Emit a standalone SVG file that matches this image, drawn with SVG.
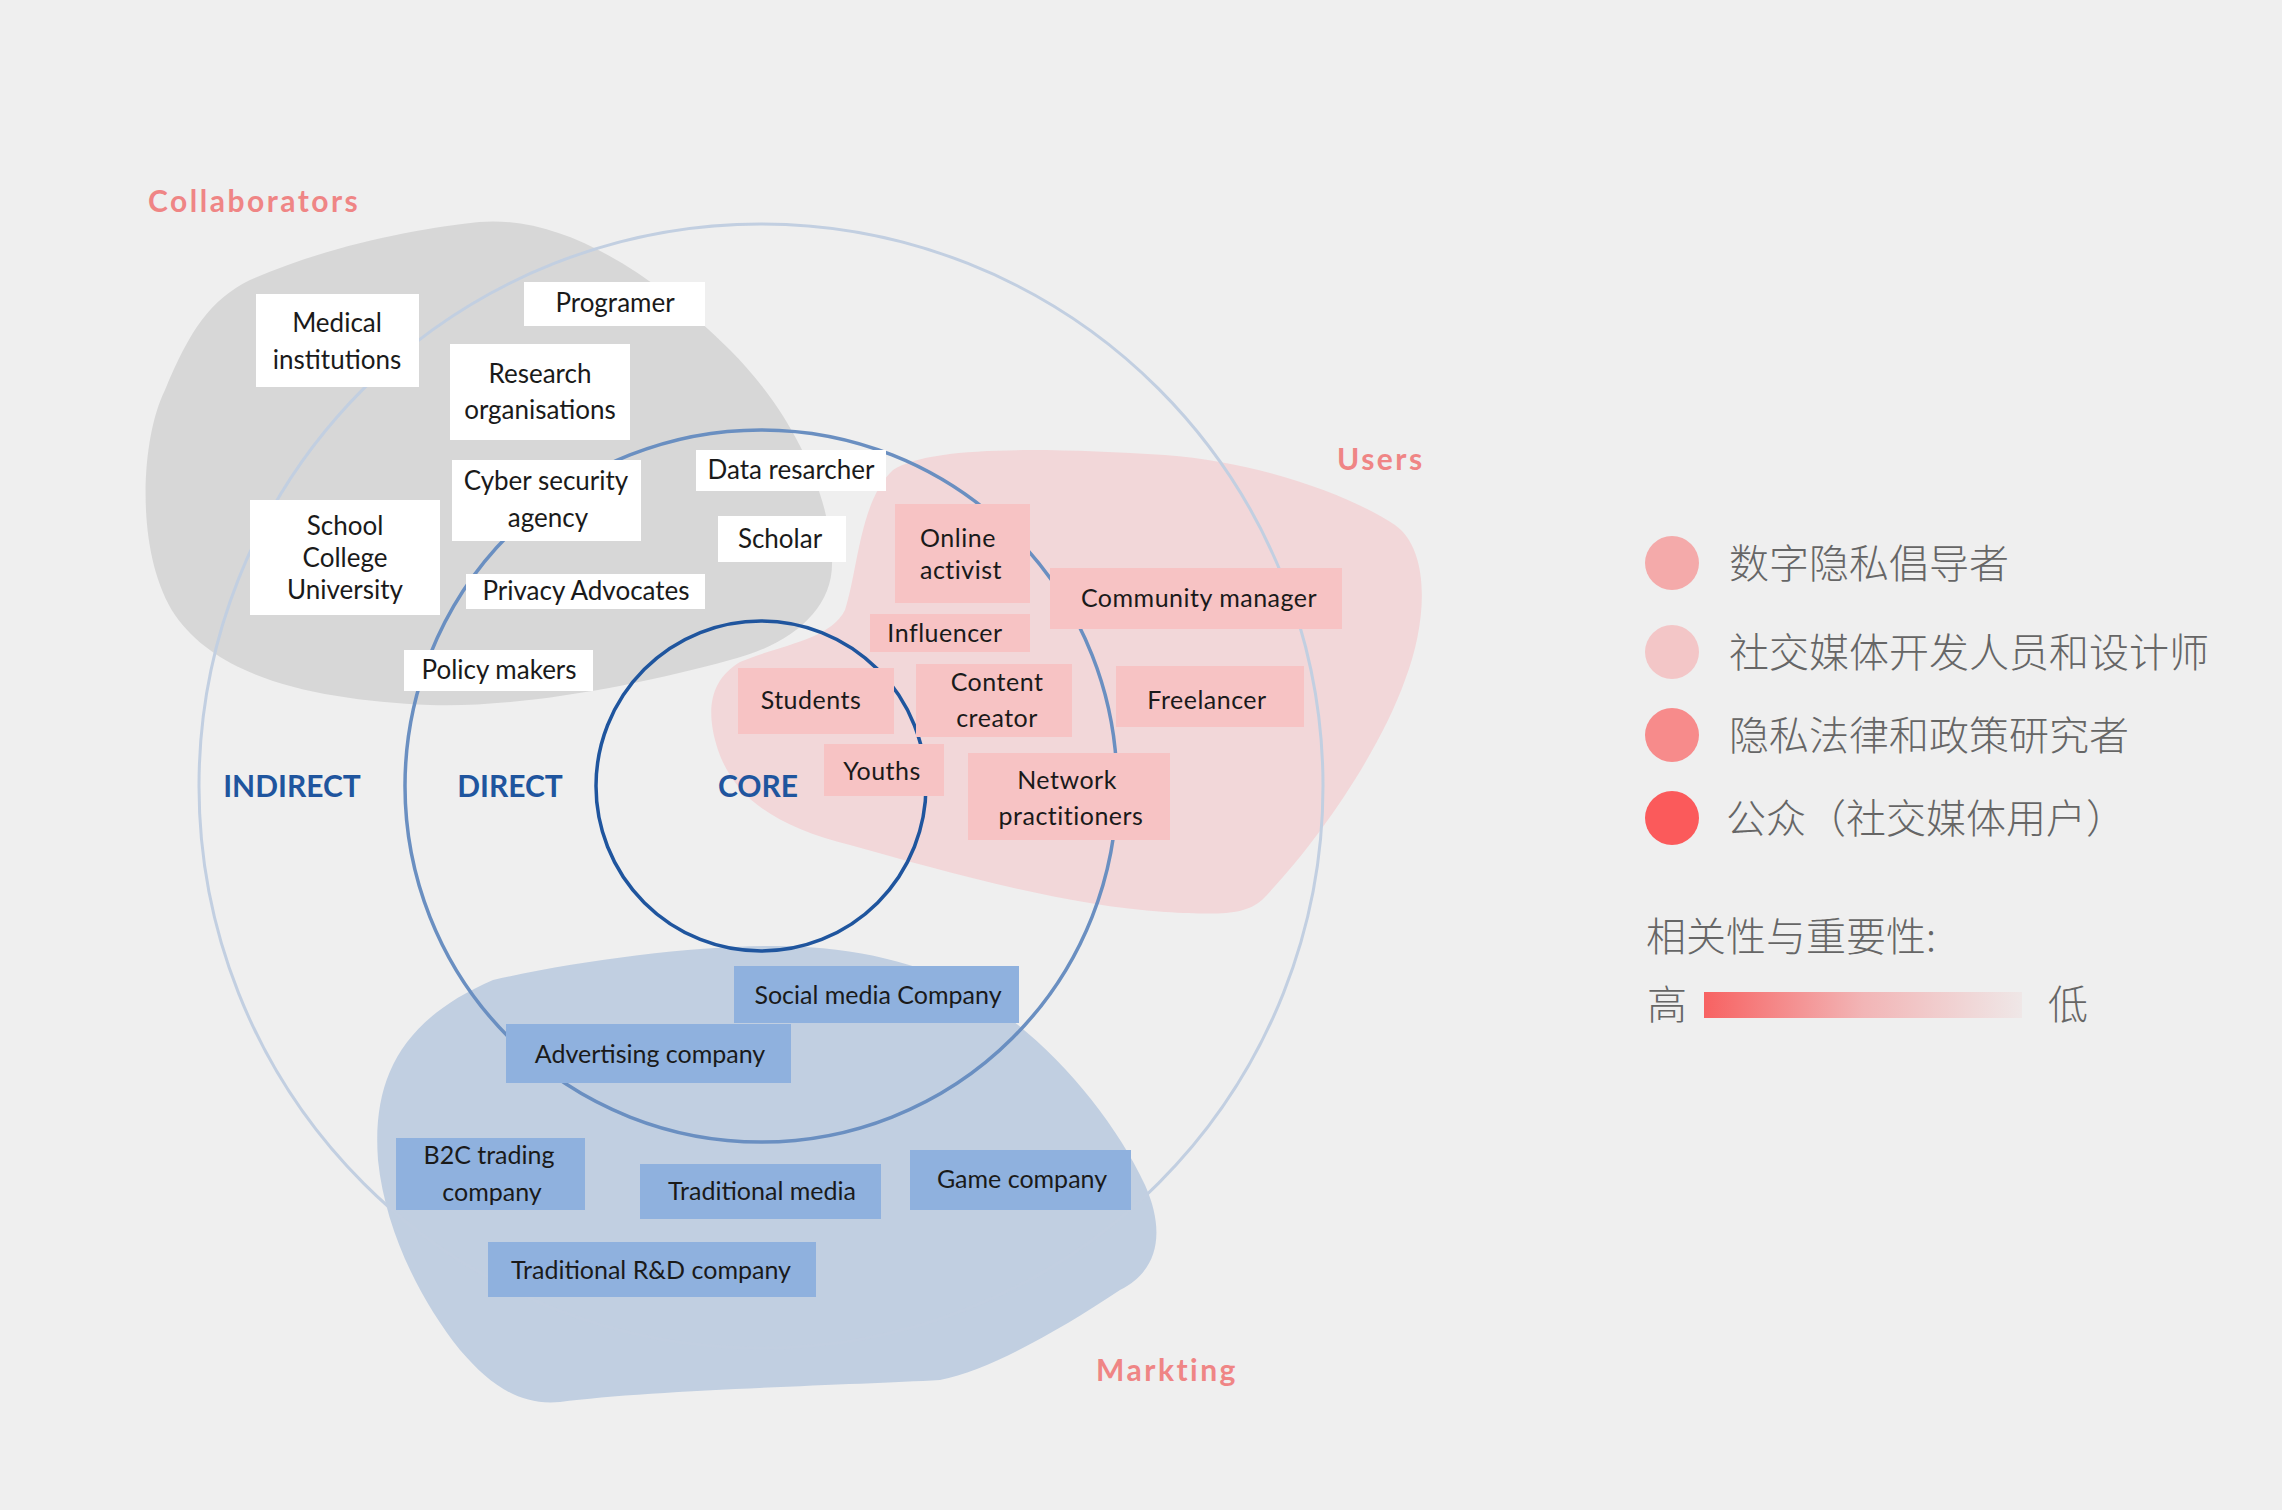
<svg xmlns="http://www.w3.org/2000/svg" width="2282" height="1510" viewBox="0 0 2282 1510">
<defs>
<linearGradient id="grad" x1="0" y1="0" x2="1" y2="0">
<stop offset="0" stop-color="#f76262"/>
<stop offset="0.5" stop-color="#f2b5b6"/>
<stop offset="1" stop-color="#efe7e7"/>
</linearGradient>
<style>
.bg{fill:#efefef}
.blobG{fill:#d7d7d7}
.blobP{fill:#f2d7d9}
.blobB{fill:#c1cfe1}
.ring{fill:none}
.wbox{fill:#ffffff}
.pbox{fill:#f7c3c4}
.bbox{fill:#8fb1de}
.t{font-family:"Lato","Noto Sans",sans-serif;font-size:26px;fill:#1a1a1a;text-anchor:middle}
.tp{font-size:25px;letter-spacing:0.5px}
.tb{font-size:25px}
.zone{font-family:"Lato","Noto Sans",sans-serif;font-size:30px;font-weight:bold;fill:#1f559e;text-anchor:middle}
.grp{font-family:"Lato","Noto Sans",sans-serif;font-size:30px;font-weight:bold;fill:#ef8585;letter-spacing:2.5px}
.lg{font-family:"Noto Sans CJK SC","Noto Sans",sans-serif;font-size:40px;font-weight:300;fill:#666666}
</style>
</defs>
<rect class="bg" x="0" y="0" width="2282" height="1510"/>

<g id="blobs">
<path id="blob-collaborators" class="blobG" d="M479,222 C560,215 650,270 730,350 C790,410 830,490 832,560 C834,610 790,645 730,660 C640,685 520,708 430,705 C320,700 220,680 175,615 C135,555 140,440 165,390 C190,330 210,300 250,280 C330,245 420,228 479,222 Z"/>
<path id="blob-users" class="blobP" d="M893,470 C930,445 1050,448 1165,455 C1260,462 1350,495 1395,525 C1430,550 1428,620 1405,680 C1380,750 1320,840 1262,900 C1245,915 1220,915 1165,912 C1060,905 940,870 850,845 C780,828 735,800 718,750 C705,710 710,680 740,662 C780,645 830,640 845,610 C858,570 860,500 893,470 Z"/>
<path id="blob-marketing" class="blobB" d="M493,980 C580,960 700,945 780,946 C860,947 920,965 960,985 C1040,1030 1110,1110 1145,1185 C1165,1230 1160,1270 1120,1290 C1060,1330 990,1370 940,1380 C850,1385 650,1390 560,1402 C520,1406 490,1385 460,1350 C420,1300 385,1230 378,1160 C372,1080 400,1020 493,980 Z"/>
</g>

<g id="rings">
<circle id="ring-indirect" class="ring" cx="761" cy="786" r="562" stroke="#c2cfe1" stroke-width="3"/>
<circle id="ring-direct" class="ring" cx="761" cy="786" r="356" stroke="#6a8fc1" stroke-width="3.5"/>
<circle id="ring-core" class="ring" cx="761" cy="786" r="165" stroke="#1f559e" stroke-width="3.5"/>
</g>

<g id="zone-labels">
<text class="zone" x="292" y="797">INDIRECT</text>
<text class="zone" x="510" y="797">DIRECT</text>
<text class="zone" x="758" y="797">CORE</text>
</g>

<g id="group-labels">
<text class="grp" x="148" y="212">Collaborators</text>
<text class="grp" x="1337" y="470">Users</text>
<text class="grp" x="1096" y="1381">Markting</text>
</g>

<g id="connectors"></g>

<g id="node-medical"><rect class="wbox" x="256" y="294" width="163" height="93"/><text class="t" x="337" y="332">Medical</text><text class="t" x="337" y="369">institutions</text></g>
<g id="node-programer"><rect class="wbox" x="524" y="282" width="181" height="44"/><text class="t" x="615" y="312">Programer</text></g>
<g id="node-research"><rect class="wbox" x="450" y="344" width="180" height="96"/><text class="t" x="540" y="383">Research</text><text class="t" x="540" y="419">organisations</text></g>
<g id="node-cyber"><rect class="wbox" x="452" y="460" width="189" height="81"/><text class="t" x="546" y="490">Cyber security</text><text class="t" x="548" y="527">agency</text></g>
<g id="node-data"><rect class="wbox" x="696" y="450" width="190" height="41"/><text class="t" x="791" y="479">Data resarcher</text></g>
<g id="node-scholar"><rect class="wbox" x="718" y="516" width="128" height="46"/><text class="t" x="780" y="548">Scholar</text></g>
<g id="node-school"><rect class="wbox" x="250" y="500" width="190" height="115"/><text class="t" x="345" y="535">School</text><text class="t" x="345" y="567">College</text><text class="t" x="345" y="599">University</text></g>
<g id="node-privacy"><rect class="wbox" x="466" y="574" width="239" height="35"/><text class="t" x="586" y="600">Privacy Advocates</text></g>
<g id="node-policy"><rect class="wbox" x="404" y="650" width="189" height="41"/><text class="t" x="499" y="679">Policy makers</text></g>

<g id="node-online"><rect class="pbox" x="895" y="504" width="135" height="99"/><text class="t tp" x="958" y="547">Online</text><text class="t tp" x="961" y="579">activist</text></g>
<g id="node-community"><rect class="pbox" x="1050" y="568" width="292" height="61"/><text class="t tp" x="1199" y="607">Community manager</text></g>
<g id="node-influencer"><rect class="pbox" x="870" y="614" width="160" height="38"/><text class="t tp" x="945" y="642">Influencer</text></g>
<g id="node-students"><rect class="pbox" x="738" y="668" width="156" height="66"/><text class="t tp" x="811" y="709">Students</text></g>
<g id="node-content"><rect class="pbox" x="916" y="664" width="156" height="73"/><text class="t tp" x="997" y="691">Content</text><text class="t tp" x="997" y="727">creator</text></g>
<g id="node-freelancer"><rect class="pbox" x="1116" y="666" width="188" height="61"/><text class="t tp" x="1207" y="709">Freelancer</text></g>
<g id="node-youths"><rect class="pbox" x="824" y="744" width="120" height="52"/><text class="t tp" x="882" y="780">Youths</text></g>
<g id="node-network"><rect class="pbox" x="968" y="753" width="202" height="87"/><text class="t tp" x="1067" y="789">Network</text><text class="t tp" x="1071" y="825">practitioners</text></g>

<g id="node-social"><rect class="bbox" x="734" y="966" width="285" height="57"/><text class="t tb" x="878" y="1004">Social media Company</text></g>
<g id="node-advertising"><rect class="bbox" x="506" y="1024" width="285" height="59"/><text class="t tb" x="650" y="1063">Advertising company</text></g>
<g id="node-b2c"><rect class="bbox" x="396" y="1138" width="189" height="72"/><text class="t tb" x="489" y="1164">B2C trading</text><text class="t tb" x="492" y="1201">company</text></g>
<g id="node-tradmedia"><rect class="bbox" x="640" y="1164" width="241" height="55"/><text class="t tb" x="762" y="1200">Traditional media</text></g>
<g id="node-game"><rect class="bbox" x="910" y="1150" width="221" height="60"/><text class="t tb" x="1022" y="1188">Game company</text></g>
<g id="node-rnd"><rect class="bbox" x="488" y="1242" width="328" height="55"/><text class="t tb" x="651" y="1279">Traditional R&amp;D company</text></g>

<g id="legend">
<circle cx="1672" cy="563" r="27" fill="#f4aaaa"/>
<circle cx="1672" cy="652" r="27" fill="#f3c6c7"/>
<circle cx="1672" cy="735" r="27" fill="#f78b8b"/>
<circle cx="1672" cy="818" r="27" fill="#fb5a5b"/>
<text class="lg" x="1729" y="578">数字隐私倡导者</text>
<text class="lg" x="1729" y="667">社交媒体开发人员和设计师</text>
<text class="lg" x="1729" y="750">隐私法律和政策研究者</text>
<text class="lg" x="1726" y="833">公众（社交媒体用户）</text>
<text class="lg" x="1646" y="951">相关性与重要性:</text>
<text class="lg" x="1647" y="1019">高</text>
<rect x="1704" y="992" width="318" height="26" fill="url(#grad)"/>
<text class="lg" x="2048" y="1019">低</text>
</g>
</svg>
